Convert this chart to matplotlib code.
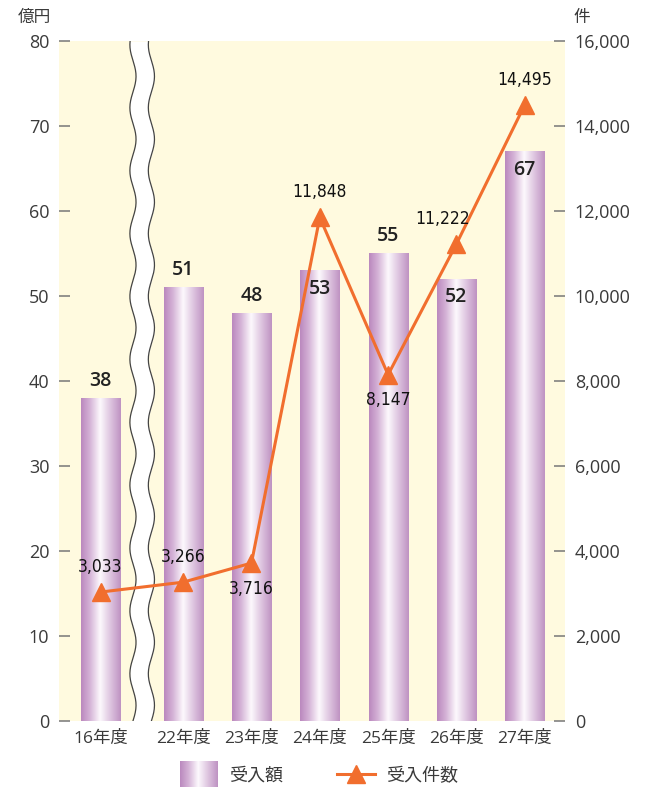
import matplotlib
matplotlib.use("Agg")
import matplotlib.pyplot as plt
import numpy as np
from matplotlib.colors import LinearSegmentedColormap
from matplotlib.legend_handler import HandlerBase
from matplotlib.image import BboxImage
from matplotlib.transforms import Bbox, TransformedBbox
from matplotlib.lines import Line2D
from matplotlib.patches import Rectangle

plt.rcParams['font.family'] = ['Open Sans', 'Noto Sans CJK JP', 'DejaVu Sans']

# data
years = ['16年度', '22年度', '23年度', '24年度', '25年度', '26年度', '27年度']
amount = [38, 51, 48, 53, 55, 52, 67]            # 受入額 (億円)
count = [3033, 3266, 3716, 11848, 8147, 11222, 14495]  # 受入件数 (件)
left_ticks = list(range(0, 81, 10))
right_ticks = list(range(0, 16001, 2000))

TEXT = '#3a3a3a'
ORANGE = '#F16E2E'
BG = '#FFFADF'
grad_cmap = LinearSegmentedColormap.from_list(
    'bar', [(0, '#BA88BE'), (0.22, '#D4B2D6'), (0.48, '#FDF9FD'), (0.75, '#DCC2DE'), (1, '#BE92C2')])
grad = np.linspace(0, 1, 256).reshape(1, -1)

fig = plt.figure(figsize=(6.51, 7.87), dpi=100)
ax = fig.add_axes([0.0906, 0.0839, 0.7773, 0.864])
ax.set_facecolor(BG)

# x positions: a gap (axis break) after the first year
xs = np.arange(len(years)) + np.where(np.arange(len(years)) > 0, 0.21, 0.0)
bw = 0.571

bars = ax.bar(xs, amount, width=bw, color='none', edgecolor='none', zorder=2)
for b in bars:
    x0, y0 = b.get_x(), b.get_y()
    ax.imshow(grad, cmap=grad_cmap, aspect='auto', interpolation='bicubic',
              extent=(x0, x0 + b.get_width(), y0, y0 + b.get_height()), zorder=2)

ax.set_xlim(-0.608, 6.80)
ax.set_ylim(0, 80)
ax.set_yticks(left_ticks)
ax.set_xticks(xs)
ax.set_xticklabels(years)

# bar value labels
inside = [False, False, False, True, False, True, True]
for x, v, ins in zip(xs, amount, inside):
    ax.annotate(str(v), (x, v), xytext=(0, -13 if ins else 12.5), textcoords='offset points',
                ha='center', va='center', fontsize=14, fontweight='semibold', color='#222222',
                zorder=4)

# axis break (wavy white band)
yy = np.linspace(0, 80, 400)
wave = 0.045 * np.sin(2 * np.pi * yy / 7.4)
bc, bhw = 0.61, 0.135
ax.fill_betweenx(yy, bc - bhw + wave, bc + bhw + wave, color='white', zorder=3, lw=0)
ax.plot(bc - bhw + wave, yy, color='#444444', lw=0.9, zorder=3)
ax.plot(bc + bhw + wave, yy, color='#444444', lw=0.9, zorder=3)

for s in ax.spines.values():
    s.set_visible(False)
ax.tick_params(axis='y', direction='in', length=8, width=1.1, color='#777777',
               labelsize=13, labelcolor=TEXT, pad=7)
ax.tick_params(axis='x', length=0, labelsize=12.5, labelcolor=TEXT, pad=7)

ax2 = ax.twinx()
ax2.set_ylim(0, 16000)
ax2.set_yticks(right_ticks)
ax2.set_yticklabels([f'{t:,}' for t in right_ticks])
for s in ax2.spines.values():
    s.set_visible(False)
ax2.tick_params(axis='y', direction='in', length=8, width=1.1, color='#777777',
                labelsize=13, labelcolor=TEXT, pad=7)

ax2.plot(xs, count, color=ORANGE, lw=2.2, marker='^', ms=13, zorder=5)

# line value labels
offs = [(0, 18), (0, 18), (0, -19), (0, 18), (0, -18), (-10, 18), (0, 18)]
for x, v, (dx, dy) in zip(xs, count, offs):
    ax2.annotate(f'{v:,}', (x, v), xytext=(dx, dy), textcoords='offset points',
                 ha='center', va='center', fontsize=12.5, color='#111111',
                 family='DejaVu Sans', fontstretch='condensed', zorder=6)

# unit labels
fig.text(34 / 651, 1 - 18 / 787, '億円', ha='center', va='center', fontsize=12, color=TEXT)
fig.text(582 / 651, 1 - 18 / 787, '件', ha='center', va='center', fontsize=12, color=TEXT)


class GradientHandler(HandlerBase):
    def create_artists(self, legend, orig_handle, xdescent, ydescent, width, height,
                       fontsize, trans):
        bb = Bbox.from_bounds(-xdescent, -ydescent - 4, width, height + 8)
        img = BboxImage(TransformedBbox(bb, trans), cmap=grad_cmap, interpolation='bicubic')
        img.set_data(grad)
        return [img]


bar_handle = Rectangle((0, 0), 1, 1)
line_handle = Line2D([], [], color=ORANGE, lw=2.2, marker='^', ms=13)
fig.legend([bar_handle, line_handle], ['受入額', '受入件数'],
           handler_map={Rectangle: GradientHandler()},
           loc='center', bbox_to_anchor=(0.49, 1 - 776 / 787), ncol=2, frameon=False,
           fontsize=13, labelcolor=TEXT, handlelength=2.1, handleheight=0.9,
           columnspacing=3.0, handletextpad=0.6)

fig.savefig('out.png', dpi=100)
